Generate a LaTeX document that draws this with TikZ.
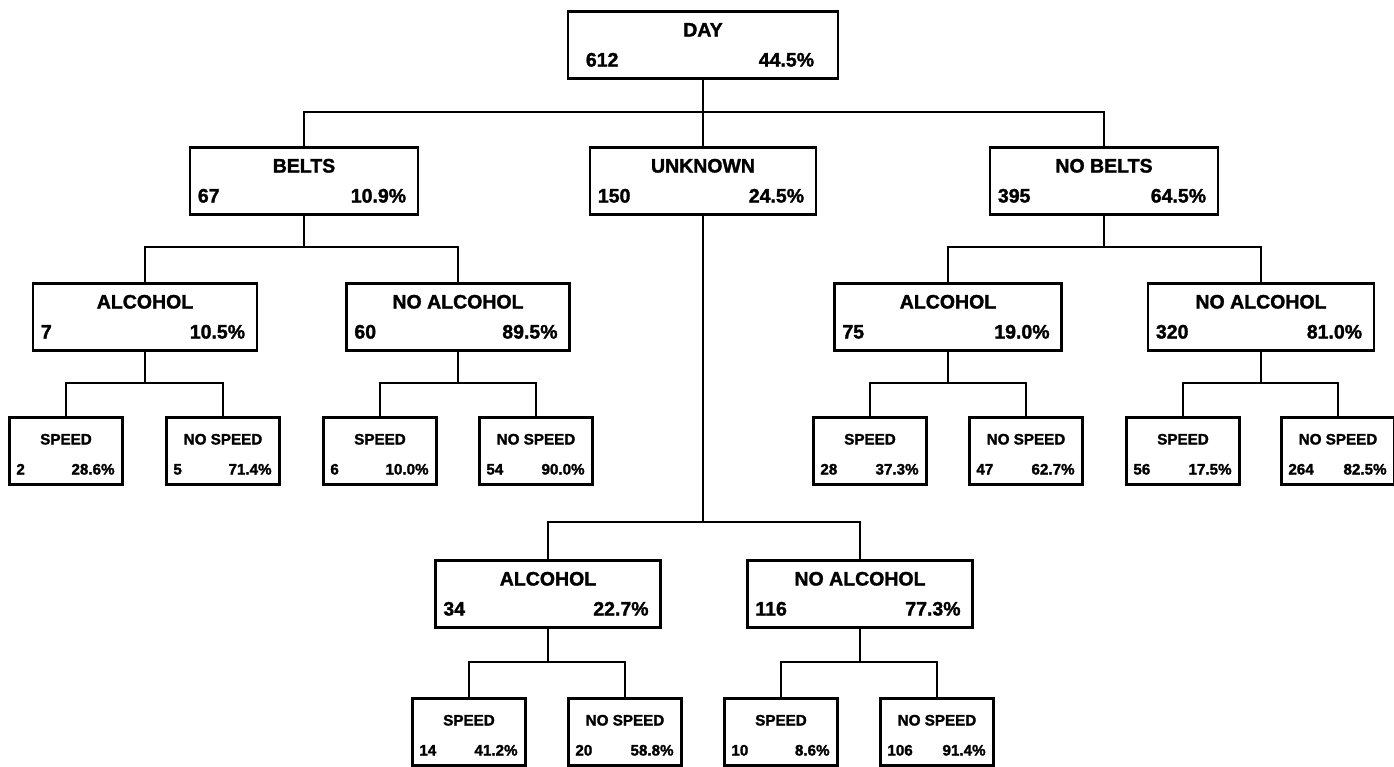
\documentclass[tikz,border=0pt]{standalone}
\usepackage{fontspec}
\setmainfont{Liberation Sans}
\newfontfamily\heavyfont[UprightFeatures={FakeBold=1.6}, BoldFeatures={FakeBold=1.6}]{Liberation Sans}
\usetikzlibrary{calc}
\tikzset{
  boxsty/.style={draw=black, line width=2.6pt, fill=white, inner sep=0pt, rectangle},
  bigtxt/.style={inner sep=0pt, font=\heavyfont\fontsize{19.5}{19.5}\selectfont\bfseries},
  smalltxt/.style={inner sep=0pt, font=\heavyfont\fontsize{15.2}{15.2}\selectfont\bfseries},
  conn/.style={draw=black, line width=2.3pt}
}
\newcommand{\bigbox}[7]{%
  \node[boxsty, minimum width=#4pt, minimum height=67pt, anchor=north] (#1) at (#2,#3) {};
  \node[bigtxt, anchor=base] (#1-l) at ([yshift=-26.5pt]#1.north) {#5};
  \node[bigtxt, anchor=base west] (#1-n) at ([xshift=9pt,yshift=-56.5pt]#1.north west) {#6};
  \node[bigtxt, anchor=base east] (#1-p) at ([xshift=-13pt,yshift=-56.5pt]#1.north east) {#7};
}
\newcommand{\smallbox}[6]{%
  \node[boxsty, minimum width=113pt, minimum height=67pt, anchor=north] (#1) at (#2,#3) {};
  \node[smalltxt, anchor=base] (#1-l) at ([yshift=-28.5pt]#1.north) {#4};
  \node[smalltxt, anchor=base west] (#1-n) at ([xshift=8pt,yshift=-58.5pt]#1.north west) {#5};
  \node[smalltxt, anchor=base east] (#1-p) at ([xshift=-9pt,yshift=-58.5pt]#1.north east) {#6};
}
\begin{document}
\begin{tikzpicture}[x=1pt, y=-1pt]
\useasboundingbox[fill=white] (0,0) rectangle (1394,766);
% junction levels
\coordinate (j1) at (703,112);
\coordinate (jb) at (304,247);
\coordinate (jn) at (1104,247);
\coordinate (jba) at (145,383);
\coordinate (jbn) at (458,383);
\coordinate (jna) at (948,383);
\coordinate (jnn) at (1261,383);
\coordinate (ju) at (703,522);
\coordinate (jua) at (548,662);
\coordinate (jun) at (860,662);

% connectors (drawn first, boxes on top)
\draw[conn] (703,77) -- (j1);
\draw[conn] (304,146) -- (304,112) -- (1104,112) -- (1104,146);
\draw[conn] (703,112) -- (703,146);
\draw[conn] (304,212) -- (jb);
\draw[conn] (145,282) -- (145,247) -- (458,247) -- (458,282);
\draw[conn] (1104,212) -- (jn);
\draw[conn] (948,282) -- (948,247) -- (1261,247) -- (1261,282);
\draw[conn] (145,349) -- (jba);
\draw[conn] (66,416) -- (66,383) -- (223,383) -- (223,416);
\draw[conn] (458,349) -- (jbn);
\draw[conn] (380,416) -- (380,383) -- (536,383) -- (536,416);
\draw[conn] (948,349) -- (jna);
\draw[conn] (870,416) -- (870,383) -- (1026,383) -- (1026,416);
\draw[conn] (1261,349) -- (jnn);
\draw[conn] (1183,416) -- (1183,383) -- (1338,383) -- (1338,416);
\draw[conn] (703,212) -- (ju);
\draw[conn] (548,559) -- (548,522) -- (860,522) -- (860,559);
\draw[conn] (548,626) -- (jua);
\draw[conn] (469,697) -- (469,662) -- (625,662) -- (625,697);
\draw[conn] (860,626) -- (jun);
\draw[conn] (781,697) -- (781,662) -- (937,662) -- (937,697);

% boxes
\node[boxsty, minimum width=270pt, minimum height=67pt, anchor=north] (day) at (703,10) {};
\node[bigtxt, anchor=base] (day-l) at ([yshift=-26.5pt]day.north) {DAY};
\node[bigtxt, anchor=base west] (day-n) at ([xshift=19pt,yshift=-56.5pt]day.north west) {612};
\node[bigtxt, anchor=base east] (day-p) at ([xshift=-25pt,yshift=-56.5pt]day.north east) {44.5\%};

\bigbox{belts}{304}{146}{228}{BELTS}{67}{10.9\%}
\bigbox{unknown}{703}{146}{226}{UNKNOWN}{150}{24.5\%}
\bigbox{nobelts}{1104}{146}{228}{NO BELTS}{395}{64.5\%}

\bigbox{balc}{145}{282}{224}{ALCOHOL}{7}{10.5\%}
\bigbox{bnalc}{458}{282}{223}{NO ALCOHOL}{60}{89.5\%}
\bigbox{nalc}{948}{282}{227}{ALCOHOL}{75}{19.0\%}
\bigbox{nnalc}{1261}{282}{226}{NO ALCOHOL}{320}{81.0\%}

\smallbox{bas}{66}{416}{SPEED}{2}{28.6\%}
\smallbox{ban}{223}{416}{NO SPEED}{5}{71.4\%}
\smallbox{bns}{380}{416}{SPEED}{6}{10.0\%}
\smallbox{bnn}{536}{416}{NO SPEED}{54}{90.0\%}
\smallbox{nas}{870}{416}{SPEED}{28}{37.3\%}
\smallbox{nan}{1026}{416}{NO SPEED}{47}{62.7\%}
\smallbox{nns}{1183}{416}{SPEED}{56}{17.5\%}
\smallbox{nnn}{1338}{416}{NO SPEED}{264}{82.5\%}

\bigbox{ualc}{548}{559}{225}{ALCOHOL}{34}{22.7\%}
\bigbox{unalc}{860}{559}{225}{NO ALCOHOL}{116}{77.3\%}

\smallbox{uas}{469}{697}{SPEED}{14}{41.2\%}
\smallbox{uan}{625}{697}{NO SPEED}{20}{58.8\%}
\smallbox{uns}{781}{697}{SPEED}{10}{8.6\%}
\smallbox{unn}{937}{697}{NO SPEED}{106}{91.4\%}
\end{tikzpicture}
\end{document}
